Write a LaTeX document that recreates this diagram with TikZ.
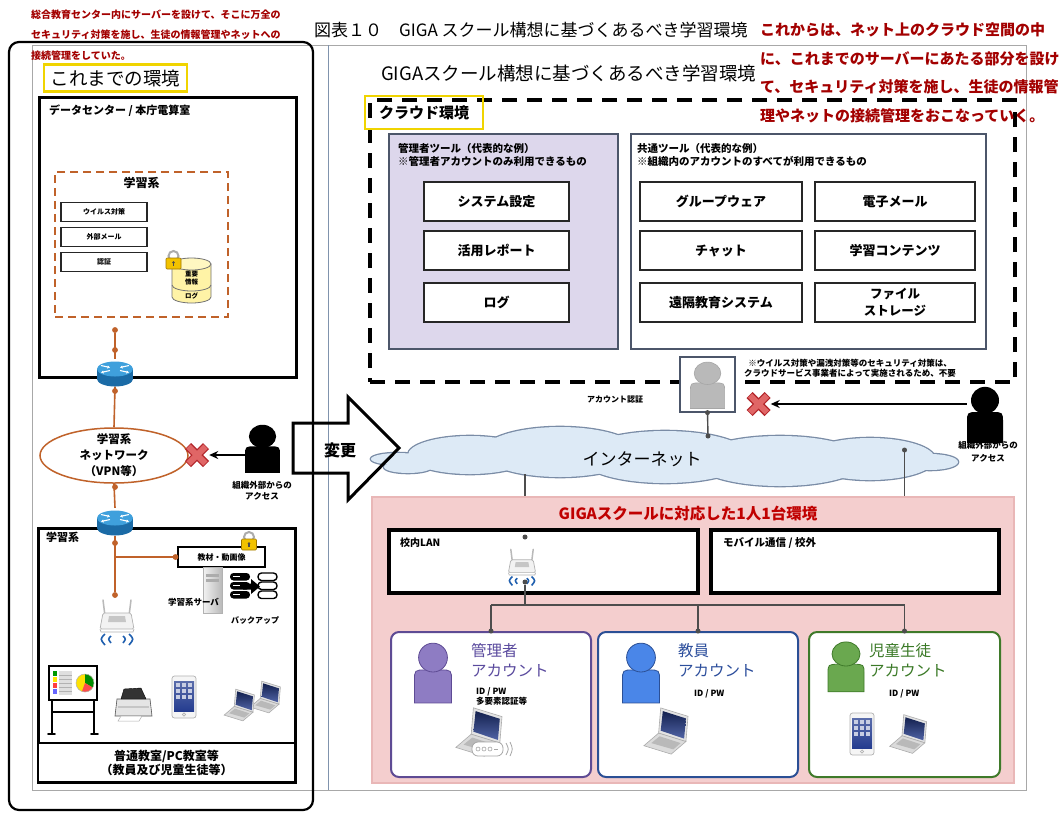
\documentclass[tikz,border=0pt]{standalone}
\usepackage{fontspec}
\setmainfont{Noto Sans CJK JP}
\usetikzlibrary{arrows.meta,shapes.geometric}

% palette
\definecolor{noteRed}{HTML}{A30000}
\definecolor{gigaRed}{HTML}{C00000}
\definecolor{labelYellow}{HTML}{F0D400}
\definecolor{netOrange}{HTML}{C0622A}
\definecolor{frameGray}{HTML}{A8A8A8}
\definecolor{sepBlue}{HTML}{8093AD}
\definecolor{toolPurple}{HTML}{DDD7EC}
\definecolor{toolEdge}{HTML}{4C566A}
\definecolor{pinkZone}{HTML}{F4CECE}
\definecolor{pinkEdge}{HTML}{E9B7B7}
\definecolor{cloudFill}{HTML}{DDEAF6}
\definecolor{cloudEdge}{HTML}{7A8CA6}
\definecolor{wireGray}{HTML}{4D4D4D}
\definecolor{adminFill}{HTML}{8E7CC3}
\definecolor{adminEdge}{HTML}{5E4B94}
\definecolor{adminText}{HTML}{5A4A9E}
\definecolor{teachFill}{HTML}{4A86E8}
\definecolor{teachEdge}{HTML}{2B4F95}
\definecolor{teachText}{HTML}{2C4E9C}
\definecolor{studFill}{HTML}{6AA84F}
\definecolor{studEdge}{HTML}{3F7A2A}
\definecolor{studText}{HTML}{3B7A27}
\definecolor{routerTop}{HTML}{3FA0DC}
\definecolor{routerSide}{HTML}{1B6BA6}
\definecolor{dbYellow}{HTML}{FFF3A6}
\definecolor{lockGold}{HTML}{F2C200}
\definecolor{lockEdge}{HTML}{A07800}
\definecolor{xRed}{HTML}{E06666}
\definecolor{xDark}{HTML}{B3262B}
\definecolor{screenBlue}{HTML}{243C8F}
\definecolor{wifiBlue}{HTML}{1F5FAF}

\newcommand\fsz[2]{\fontsize{#1}{#2}\selectfont}

\tikzset{
  every node/.style={inner sep=0pt},
  olink/.style={draw=netOrange, line width=1.6},
  odot/.style={circle, fill=netOrange, minimum size=5.5pt},
  wire/.style={draw=wireGray, line width=1.4},
  wdot/.style={circle, fill=wireGray, minimum size=5pt},
  tagbox/.style={draw=labelYellow, line width=2.2},
  smallbox/.style={draw=black!85, line width=1.3, fill=white, minimum width=86, minimum height=19, font=\bfseries\fsz{7}{8}},
  toolbox/.style={draw=black!85, line width=1.3, fill=white, minimum height=39, font=\bfseries\fsz{13}{15.5}, align=center},
  toolpanel/.style={draw=toolEdge, line width=1.2, minimum height=215},
  toolhead/.style={anchor=north west, align=left, font=\bfseries\fsz{10.5}{13}},
  acctbox/.style={line width=2, fill=white, rounded corners=8, minimum height=145},
  accttext/.style={anchor=north west, align=left, font=\fsz{15.5}{20.5}},
  idtext/.style={anchor=north west, align=left, font=\bfseries\fsz{8.5}{10.5}},
  denyarrow/.style={-{Stealth[length=9pt,width=8pt]}, line width=1.7},
  % icons
  person/.pic={
    \path[pic actions] (-18,30) -- (-18,9) .. controls (-18,-2) .. (-7,-2)
      -- (7,-2) .. controls (18,-2) .. (18,9) -- (18,30) -- cycle;
    \path[pic actions] (0,-14) circle[radius=14];
  },
  router/.pic={
    \fill[routerSide] (-18,-4) rectangle (18,6);
    \fill[routerSide] (0,6) ellipse[x radius=18, y radius=7.5];
    \fill[routerTop] (0,-4) ellipse[x radius=18, y radius=7.5];
    \draw[white, line width=1.1, -{Triangle[length=2.5pt,width=3pt]}] (-14,-7.5) -- (-5,-5.5);
    \draw[white, line width=1.1, -{Triangle[length=2.5pt,width=3pt]}] (14,-7.5) -- (5,-5.5);
    \draw[white, line width=1.1, -{Triangle[length=2.5pt,width=3pt]}] (-5,-2.5) -- (-14,-0.5);
    \draw[white, line width=1.1, -{Triangle[length=2.5pt,width=3pt]}] (5,-2.5) -- (14,-0.5);
  },
  accesspoint/.pic={
    \draw[gray!55, line width=1.5, line cap=round] (-12,-6) -- (-14,-22) (12,-6) -- (14,-22);
    \filldraw[fill=gray!10, draw=gray!60, line width=0.7, rounded corners=1.5]
      (-14,-9) -- (14,-9) -- (17,7) -- (-17,7) -- cycle;
    \fill[gray!45] (-8,-6) -- (8,-6) -- (9,0) -- (-9,0) -- cycle;
    \draw[gray!60, line width=0.7] (-17,7) -- (-16,10) -- (16,10) -- (17,7);
    \draw[wifiBlue, line width=1.6] (-6,14) .. controls (-9,17) .. (-6,21);
    \draw[wifiBlue, line width=1.6] (-12,12) .. controls (-17,17) .. (-12,23);
    \draw[wifiBlue, line width=1.6] (6,14) .. controls (9,17) .. (6,21);
    \draw[wifiBlue, line width=1.6] (12,12) .. controls (17,17) .. (12,23);
  },
  lock/.pic={
    \draw[gray!65, line width=2] (0,-3) circle[radius=5];
    \filldraw[fill=lockGold, draw=lockEdge, line width=0.6, rounded corners=1] (-7.5,-1) rectangle (7.5,10);
    \fill[black!70] (0,3.5) circle[radius=1.4];
    \fill[black!70] (-0.6,3.5) rectangle (0.6,7);
  },
  xmark/.pic={
    \draw[xDark, line width=8.5] (-9,-9) -- (9,9) (-9,9) -- (9,-9);
    \draw[xRed, line width=6] (-8.4,-8.4) -- (8.4,8.4) (-8.4,8.4) -- (8.4,-8.4);
  },
  laptop/.pic={
    \filldraw[fill=gray!22, draw=gray!65, line width=0.6] (-6,-22) -- (20,-14) -- (18,10) -- (-8,2) -- cycle;
    \shade[top color=screenBlue!55!black, bottom color=screenBlue!80!white]
      (-4,-19) -- (18,-12) -- (16.3,7.2) -- (-6,-0.3) -- cycle;
    \filldraw[fill=gray!28, draw=gray!65, line width=0.6] (-8,2) -- (18,10) -- (4,22) -- (-22,14) -- cycle;
    \fill[gray!55] (-7,5) -- (13,11.5) -- (6,17.5) -- (-15,11.5) -- cycle;
  },
  tablet/.pic={
    \filldraw[fill=gray!8, draw=gray!60, line width=0.7, rounded corners=2.5] (-12,-21) rectangle (12,21);
    \shade[top color=screenBlue!75, bottom color=screenBlue] (-10,-16) rectangle (10,14);
    \foreach \i in {-6,0,6} { \foreach \j in {-12,-6,0} {
      \fill[white!75!screenBlue] (\i-2,\j-2) rectangle (\i+2,\j+2); } }
    \draw[gray!60, line width=0.6] (0,17.5) circle[radius=1.6];
  }
}

\begin{document}
\begin{tikzpicture}[x=1pt,y=-1pt]
\useasboundingbox (0,0) rectangle (1064,812);
\fill[white] (0,0) rectangle (1064,812);

%% ---------- frames ----------
\node[draw=frameGray, line width=1, minimum width=994, minimum height=745] (figFrame) at (529,417.5) {};
\draw[sepBlue, line width=1] (328,45) -- (328,790);
\node[draw, line width=2.2, rounded corners=10, minimum width=304, minimum height=768] (oldPanel) at (161,426) {};

%% ---------- captions ----------
\node[anchor=west, font=\fsz{17}{20}] (figTitle) at (314,30) {図表１０　GIGA スクール構想に基づくあるべき学習環境};
\node[anchor=west, align=left, text=noteRed, font=\bfseries\fsz{10}{20.5}] (oldNote) at (31,35)
  {総合教育センター内にサーバーを設けて、そこに万全の\\セキュリティ対策を施し、生徒の情報管理やネットへの\\接続管理をしていた。};

%% ---------- former environment ----------
\node[tagbox, minimum width=143, minimum height=27, font=\fsz{18.5}{20}] (oldLabel) at (115.5,78) {これまでの環境};
\node[draw, line width=3, minimum width=257, minimum height=280] (dcBox) at (167.5,237) {};
\node[anchor=west, font=\bfseries\fsz{11}{13}] (dcTitle) at (49,111) {データセンター / 本庁電算室};
\node[draw=netOrange, line width=2, dash pattern=on 8pt off 5pt, minimum width=173, minimum height=145] (learnZone) at (141.5,244.5) {};
\node[font=\bfseries\fsz{12}{14}] (learnZoneTitle) at (141.5,183) {学習系};
\node[smallbox] (antiVirus) at (104,212) {ウイルス対策};
\node[smallbox] (extMail) at (104,237) {外部メール};
\node[smallbox] (authOld) at (104,262) {認証};

% storage cylinder
\filldraw[fill=dbYellow, draw=black!55, line width=0.8] (172,264) -- (172,297)
  arc[start angle=180, end angle=0, x radius=19.5, y radius=6] -- (211,264) -- cycle;
\draw[black!55, line width=0.8] (172,285) arc[start angle=180, end angle=0, x radius=19.5, y radius=6];
\filldraw[fill=dbYellow!70!white, draw=black!55, line width=0.8] (191.5,264) ellipse[x radius=19.5, y radius=6];
\node[font=\bfseries\fsz{6.5}{8.5}, align=center] (dbKey) at (191.5,278) {重要\\情報};
\node[font=\bfseries\fsz{6.5}{8}] (dbLog) at (191.5,296) {ログ};
\pic at (173.5,259) {lock};

% network chain
\node[minimum width=36, minimum height=27] (routerA) at (115,373) {};
\node[ellipse, draw=netOrange, line width=1.5, fill=white, minimum width=148, minimum height=55] (learnNet) at (114,455.5) {};
\node[align=center, font=\bfseries\fsz{11.5}{16}] (learnNetText) at (learnNet) {学習系\\ネットワーク\\（VPN等）};
\node[minimum width=36, minimum height=28] (routerB) at (115,522) {};

\node[draw, line width=3, minimum width=257, minimum height=254] (classBox) at (166.5,655) {};
\node[draw, line width=2.5, fill=white, minimum width=257, minimum height=39, align=center, font=\bfseries\fsz{12}{14}] (roomLabel) at (166.5,762.5)
  {普通教室/PC教室等\\（教員及び児童生徒等）};
\node[anchor=west, font=\bfseries\fsz{11}{13}] (classTitle) at (46,537) {学習系};
\node[draw, line width=1.5, fill=white, minimum width=87, minimum height=20, font=\bfseries\fsz{8}{10}] (mediaBox) at (221.5,557) {教材・動画像};
\node[minimum width=43, minimum height=47] (apA) at (117,622) {};

\node[odot] (dotA) at (115,330) {};
\node[odot] (dotB) at (115,350) {};
\node[odot] (dotC) at (115,391) {};
\node[odot] (dotD) at (115,487) {};
\node[odot] (dotE) at (115,543) {};
\node[odot] (dotF) at (175.5,557) {};
\node[odot] (dotG) at (115,595) {};
\coordinate (branchA) at (115,557);

\draw[olink] (dotA) -- (routerA.north);
\draw[olink] (routerA.south) -- (learnNet.north);
\draw[olink] (learnNet.south) -- (routerB.north);
\draw[olink] (routerB.south) -- (dotG);
\draw[olink] (branchA) -- (dotF);
\foreach \d in {dotA,dotB,dotC,dotD,dotE,dotF,dotG} \node[odot] at (\d) {};

\pic at (routerA) {router};
\pic at (routerB) {router};
\pic at (249,540) {lock};
\pic at (apA) {accesspoint};

% outside access blocked
\node[minimum size=24] (denyA) at (197,455) {};
\pic at (denyA) {xmark};
\node[minimum width=35, minimum height=48] (outsiderA) at (262.5,448) {};
\pic[fill=black, xscale=0.97, yscale=0.83] at (outsiderA) {person};
\draw[denyarrow] (outsiderA.west |- denyA.east) -- (denyA.east);
\node[align=center, font=\bfseries\fsz{8.5}{11}] (outsiderALabel) at (262,491) {組織外部からの\\アクセス};

% server and backup
\shade[left color=gray!10, right color=gray!55] (203,567) rectangle (222,613);
\draw[gray!60, line width=0.6] (203,567) rectangle (222,613);
\fill[gray!65] (206,574) rectangle (219,576.5);
\fill[gray!65] (206,579) rectangle (219,581.5);
\node[font=\bfseries\fsz{8.5}{10}] (serverLabel) at (193.5,602) {学習系サーバ};
\foreach \yy in {573,582,591} \fill[black, rounded corners=3.5] (230,\yy) rectangle (250,\yy+7.5);
\foreach \yy in {576.7,585.7,594.7} \draw[white, line width=1.2] (233,\yy) -- (240,\yy);
\foreach \yy in {573,582,591} \filldraw[fill=white, draw=black, line width=1.4, rounded corners=3.5] (258,\yy) rectangle (277,\yy+7.5);
\fill[black] (243,583.5) -- (251,583.5) -- (251,579) -- (260,586.5) -- (251,594) -- (251,589.5) -- (243,589.5) -- cycle;
\node[font=\bfseries\fsz{8}{10}] (backupLabel) at (255,620) {バックアップ};

% classroom devices: whiteboard
\draw[black, line width=1.8] (52,701) -- (52,733) (94,701) -- (94,733);
\draw[black, line width=1.2] (52,712) -- (94,712);
\draw[black, line width=1.8, line cap=round] (48,734) -- (55,734) (91,734) -- (98,734);
\filldraw[fill=white, draw=black, line width=1.6] (49,666) rectangle (97,700);
\fill[green!60!black] (53,671) rectangle (57,676);
\fill[yellow!90!orange] (53,677) rectangle (57,682);
\fill[red!75] (53,683) rectangle (57,688);
\fill[blue!60] (53,689) rectangle (57,694);
\fill[gray!25] (59,671) rectangle (72,695);
\foreach \yy in {675,679,683,687,691} \draw[gray!60, line width=0.4] (59,\yy) -- (72,\yy);
\fill[yellow!85!orange] (85,683) circle[radius=9];
\fill[green!55!black] (85,683) -- (85,674) arc[start angle=-90, end angle=30, radius=9] -- cycle;
\fill[red!70] (85,683) -- ++(30:9) arc[start angle=30, end angle=110, radius=9] -- cycle;
\draw[gray!60, line width=0.5] (85,683) circle[radius=9];
% printer
\filldraw[fill=gray!20, draw=gray!65!black, line width=0.6] (117,699) -- (150,699) -- (152,716) -- (115,716) -- cycle;
\filldraw[fill=black!80, draw=black] (121,699) -- (124,689) -- (141,688) -- (146,699) -- cycle;
\fill[gray!45] (118,706) rectangle (149,708);
\filldraw[fill=white, draw=gray!60, line width=0.5] (121,716) -- (142,716) -- (139,721) -- (118,721) -- cycle;
% tablet and laptops
\pic at (184,697) {tablet};
\pic[scale=0.72] at (266,697) {laptop};
\pic[scale=0.72] at (240,705) {laptop};

%% ---------- GIGA environment ----------
\node[anchor=west, font=\fsz{18.5}{20}] (panelTitle) at (381,73) {GIGAスクール構想に基づくあるべき学習環境};
\node[draw, line width=4, dash pattern=on 15pt off 10pt, minimum width=645, minimum height=282] (cloudZone) at (692.5,241) {};
\node[tagbox, minimum width=118, minimum height=33, font=\bfseries\fsz{15}{17}] (cloudLabel) at (424,112.5) {クラウド環境};

\node[toolpanel, fill=toolPurple, minimum width=229] (adminTools) at (503.5,241.5) {};
\node[toolpanel, fill=white, minimum width=355] (commonTools) at (808.5,241.5) {};
\node[toolhead] (adminToolsHead) at (398,143) {管理者ツール（代表的な例）\\※管理者アカウントのみ利用できるもの};
\node[toolhead] (commonToolsHead) at (637,143) {共通ツール（代表的な例）\\※組織内のアカウントのすべてが利用できるもの};
\node[toolbox, minimum width=145] (sysConf) at (496.5,201.5) {システム設定};
\node[toolbox, minimum width=145] (useReport) at (496.5,250.5) {活用レポート};
\node[toolbox, minimum width=145] (logBox) at (496.5,302.5) {ログ};
\node[toolbox, minimum width=162] (groupware) at (721,201.5) {グループウェア};
\node[toolbox, minimum width=160] (email) at (895,201.5) {電子メール};
\node[toolbox, minimum width=162] (chat) at (721,250.5) {チャット};
\node[toolbox, minimum width=160] (contents) at (895,250.5) {学習コンテンツ};
\node[toolbox, minimum width=162] (remote) at (721,302.5) {遠隔教育システム};
\node[toolbox, minimum width=160, font=\bfseries\fsz{12.5}{17}] (storage) at (895,302.5) {ファイル\\ストレージ};
\node[align=center, font=\bfseries\fsz{8.5}{10.5}] (secNote) at (850,368)
  {※ウイルス対策や漏洩対策等のセキュリティ対策は、\\クラウドサービス事業者によって実施されるため、不要};

% internet cloud
\foreach \cx/\cy/\rx/\ry in {398/459/27/6, 408/467/24/6, 470/455/62/19, 560/452/78/25, 665/457/85/26, 780/461/85/25, 870/459/65/21, 930/462/28/8}
  \draw[cloudEdge, line width=2.6] (\cx,\cy) ellipse[x radius=\rx, y radius=\ry];
\foreach \cx/\cy/\rx/\ry in {398/459/27/6, 408/467/24/6, 470/455/62/19, 560/452/78/25, 665/457/85/26, 780/461/85/25, 870/459/65/21, 930/462/28/8}
  \fill[cloudFill] (\cx,\cy) ellipse[x radius=\rx, y radius=\ry];
\node[font=\fsz{17}{20}] (internetLabel) at (642,459) {インターネット};
\coordinate (cloudTop) at (708,436);
\coordinate (cloudTap) at (904.5,450);
\coordinate (cloudBase) at (525,474);

% account authentication
\node[draw=toolEdge, fill=white, line width=1.2, minimum size=55] (authBox) at (707.5,384.5) {};
\pic[fill=gray!55, draw=gray!70, line width=0.6, xscale=0.95, yscale=0.8] at (authBox) {person};
\node[font=\bfseries\fsz{8}{10}] (authLabel) at (615,400) {アカウント認証};
\draw[wire] (authBox.south) -- (cloudTop);
\node[wdot] (authDot) at (authBox.south) {};
\node[wdot] (cloudTopDot) at (cloudTop) {};

\node[minimum size=24] (denyB) at (758.5,404) {};
\pic at (denyB) {xmark};
\node[minimum width=36, minimum height=56] (outsiderB) at (985,414) {};
\pic[fill=black, yscale=0.97] at (outsiderB) {person};
\draw[denyarrow] (outsiderB.west |- denyB.east) -- (denyB.east);
\node[align=center, font=\bfseries\fsz{8.5}{12.5}] (outsiderBLabel) at (988,451.5) {組織外部からの\\アクセス};

% links from the cloud into the school side
\coordinate (busY) at (0,605);
\draw[wire] (cloudBase) -- (525,537);
\draw[wire] (cloudTap) -- (cloudTap |- busY);
\node[wdot] (cloudTapDot) at (cloudTap) {};

% one device per learner
\node[fill=pinkZone, draw=pinkEdge, line width=1.5, minimum width=642, minimum height=286] (oneToOne) at (693,640) {};
\node[text=gigaRed, font=\bfseries\fsz{15.5}{17}] (oneToOneTitle) at (688,514) {GIGAスクールに対応した1人1台環境};
\node[draw, line width=3.5, fill=white, minimum width=309, minimum height=63] (lanBox) at (543.5,561.5) {};
\node[draw, line width=3.5, fill=white, minimum width=288, minimum height=63] (mobileBox) at (855,561.5) {};
\node[anchor=west, font=\bfseries\fsz{10}{12}] (lanLabel) at (400,543) {校内LAN};
\node[anchor=west, font=\bfseries\fsz{10.5}{12}] (mobileLabel) at (723,543) {モバイル通信 / 校外};
\node[minimum width=45, minimum height=36] (apB) at (522,567) {};
\pic[scale=0.8] at (apB) {accesspoint};
\node[wdot] (lanTap) at (525,537) {};
\node[wdot] (apBDot) at (525,582) {};

% accounts
\node[acctbox, draw=adminEdge, minimum width=200] (adminAcct) at (491,704.5) {};
\node[acctbox, draw=teachEdge, minimum width=200] (teacherAcct) at (698,704.5) {};
\node[acctbox, draw=studEdge, minimum width=191] (studentAcct) at (904.5,704.5) {};

\draw[wire] (apBDot) -- (apBDot |- busY);
\draw[wire] (adminAcct.north |- busY) -- (studentAcct.north |- busY);
\foreach \a in {adminAcct,teacherAcct,studentAcct} {
  \draw[wire] (\a.north |- busY) -- (\a.north);
  \node[wdot] at (\a.north) {};
}

\pic[fill=adminFill, draw=adminEdge, line width=0.8, scale=1.03] at (433,672) {person};
\pic[fill=teachFill, draw=teachEdge, line width=0.8, scale=1.03] at (641,672) {person};
\pic[fill=studFill, draw=studEdge, line width=0.8, xscale=1, yscale=0.86] at (846,666) {person};
\node[accttext, text=adminText] (adminName) at (471,643) {管理者\\アカウント};
\node[accttext, text=teachText] (teacherName) at (678,643) {教員\\アカウント};
\node[accttext, text=studText] (studentName) at (869,643) {児童生徒\\アカウント};
\node[idtext] (adminId) at (476,687) {ID / PW\\多要素認証等};
\node[idtext] (teacherId) at (694,689) {ID / PW};
\node[idtext] (studentId) at (889,689) {ID / PW};

\pic[scale=1.1] at (480,732) {laptop};
\filldraw[fill=white, draw=gray!70, line width=0.8, rounded corners=6] (472,742) rectangle (503,756);
\foreach \k in {478,484,490} \draw[gray!70, line width=0.6] (\k,749) circle[radius=2];
\draw[gray!70, line width=0.8] (494,749) -- (498,749);
\draw[gray!70, line width=0.8] (506,743) .. controls (509,749) .. (506,755);
\draw[gray!70, line width=0.8] (510,742) .. controls (513,749) .. (510,756);
\pic[scale=1.05] at (667,731) {laptop};
\pic at (862,734) {tablet};
\pic[scale=0.88] at (909,734) {laptop};

%% ---------- change arrow ----------
\draw[line width=3, line join=miter] (293,423) -- (348,423) -- (348,397) -- (399,448) -- (348,500) -- (348,473) -- (293,473) -- cycle;
\node[font=\bfseries\fsz{16}{18}] (changeText) at (340,450) {変更};

\node[anchor=west, align=left, text=noteRed, font=\bfseries\fsz{15}{28.7}] (newNote) at (760,73)
  {これからは、ネット上のクラウド空間の中\\に、これまでのサーバーにあたる部分を設け\\て、セキュリティ対策を施し、生徒の情報管\\理やネットの接続管理をおこなっていく。};
\end{tikzpicture}
\end{document}
